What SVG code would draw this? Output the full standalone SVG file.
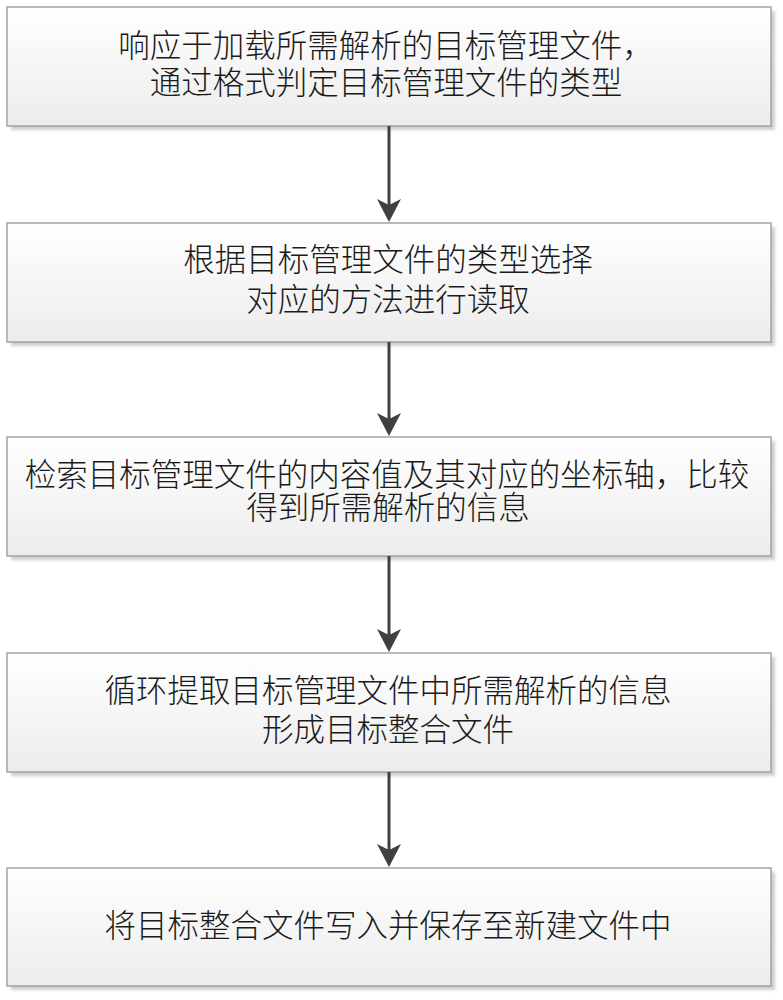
<svg xmlns="http://www.w3.org/2000/svg" width="783" height="1000" viewBox="0 0 783 1000">
  <style>
    .box { fill: url(#grad); stroke: #a3a3a3; stroke-width: 1.5; }
    .shadow { fill: #cfcfcf; filter: url(#blur); }
    .label { font-family: "Liberation Serif", "Noto Sans CJK SC", serif; font-size: 31.5px; font-weight: 300; fill: #1a1a1a; text-anchor: middle; }
    .conn { stroke: #404040; stroke-width: 3; fill: none; marker-end: url(#arrow); }
  </style>
  <defs>
    <linearGradient id="grad" x1="0" y1="0" x2="0" y2="1">
      <stop offset="0" stop-color="#ffffff"/>
      <stop offset="1" stop-color="#ececec"/>
    </linearGradient>
    <filter id="blur" x="-5%" y="-10%" width="110%" height="130%">
      <feGaussianBlur stdDeviation="1.5"/>
    </filter>
    <marker id="arrow" markerUnits="userSpaceOnUse" viewBox="0 0 23 24" markerWidth="23" markerHeight="24" refX="12" refY="12" orient="auto">
      <path d="M0,0 L6,12 L0,24 L23,12 Z" fill="#404040"/>
    </marker>
  </defs>
  <rect width="783" height="1000" fill="#ffffff"/>

  <g id="node1">
    <rect class="shadow" x="11" y="11" width="764" height="119"/>
    <rect class="box" x="7" y="7" width="764" height="119"/>
    <text class="label" x="386" y="57">响应于加载所需解析的目标管理文件，</text>
    <text class="label" x="386" y="94">通过格式判定目标管理文件的类型</text>
  </g>

  <g id="node2">
    <rect class="shadow" x="11" y="227" width="764" height="119"/>
    <rect class="box" x="7" y="223" width="764" height="119"/>
    <text class="label" x="388" y="271">根据目标管理文件的类型选择</text>
    <text class="label" x="388" y="311">对应的方法进行读取</text>
  </g>

  <g id="node3">
    <rect class="shadow" x="11" y="441" width="764" height="119"/>
    <rect class="box" x="7" y="437" width="764" height="119"/>
    <text class="label" x="387" y="486">检索目标管理文件的内容值及其对应的坐标轴，比较</text>
    <text class="label" x="388" y="519">得到所需解析的信息</text>
  </g>

  <g id="node4">
    <rect class="shadow" x="11" y="657" width="764" height="119"/>
    <rect class="box" x="7" y="653" width="764" height="119"/>
    <text class="label" x="388" y="702">循环提取目标管理文件中所需解析的信息</text>
    <text class="label" x="388" y="741">形成目标整合文件</text>
  </g>

  <g id="node5">
    <rect class="shadow" x="11" y="872" width="764" height="118"/>
    <rect class="box" x="7" y="868" width="764" height="118"/>
    <text class="label" x="388" y="937">将目标整合文件写入并保存至新建文件中</text>
  </g>

  <g id="connectors">
    <line class="conn" x1="389" y1="126" x2="389" y2="211"/>
    <line class="conn" x1="389" y1="342" x2="389" y2="425"/>
    <line class="conn" x1="389" y1="556" x2="389" y2="641"/>
    <line class="conn" x1="389" y1="772" x2="389" y2="856"/>
  </g>
</svg>
